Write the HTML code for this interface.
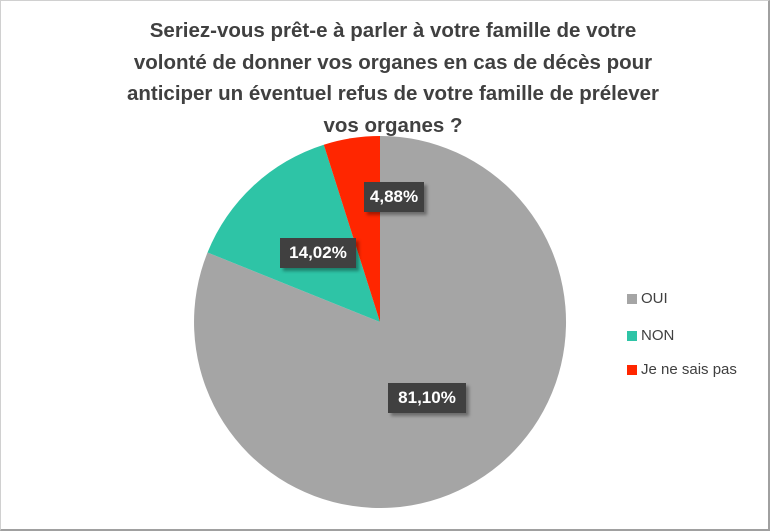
<!DOCTYPE html><html><head><style>
body{margin:0;width:771px;height:532px;background:#fff;overflow:hidden;font-family:"Liberation Sans",sans-serif}
.t{position:absolute;left:103px;width:580px;top:15px;text-align:center;font-weight:bold;font-size:20.5px;line-height:31.5px;color:#404040}
.l{position:absolute;background:#404040;color:#fff;font-weight:bold;font-size:17px;line-height:30px;text-align:center;box-shadow:3px 3px 3px rgba(0,0,0,.35)}
.g{position:absolute;left:627px;font-size:15px;color:#404040}
.g i{display:inline-block;width:10px;height:10px;margin-right:4px;vertical-align:-1px}
</style></head><body>
<div style="position:absolute;left:0;top:0;width:767px;height:528px;border:1px solid #d0d0d0;border-right:2px solid #a0a0a0;border-bottom:2px solid #a0a0a0"></div>
<div class="t">Seriez-vous prêt-e à parler à votre famille de votre<br>volonté de donner vos organes en cas de décès pour<br>anticiper un éventuel refus de votre famille de prélever<br>vos organes ?</div>
<svg width="771" height="532" style="position:absolute;left:0;top:0">
<path d="M380,322 L380,136 A186,186 0 1 1 207.5,252.5 Z" fill="#a5a5a5"/>
<path d="M380,322 L207.5,252.5 A186,186 0 0 1 323.8,144.7 Z" fill="#2ec4a6"/>
<path d="M380,322 L323.8,144.7 A186,186 0 0 1 380,136 Z" fill="#ff2600"/>
</svg>
<div class="l" style="left:364px;top:182px;width:60px">4,88%</div>
<div class="l" style="left:280px;top:238px;width:76px">14,02%</div>
<div class="l" style="left:388px;top:383px;width:78px">81,10%</div>
<div class="g" style="top:290px"><i style="background:#a5a5a5"></i>OUI</div>
<div class="g" style="top:327px"><i style="background:#2ec4a6"></i>NON</div>
<div class="g" style="top:361px"><i style="background:#ff2600"></i>Je ne sais pas</div>
</body></html>
